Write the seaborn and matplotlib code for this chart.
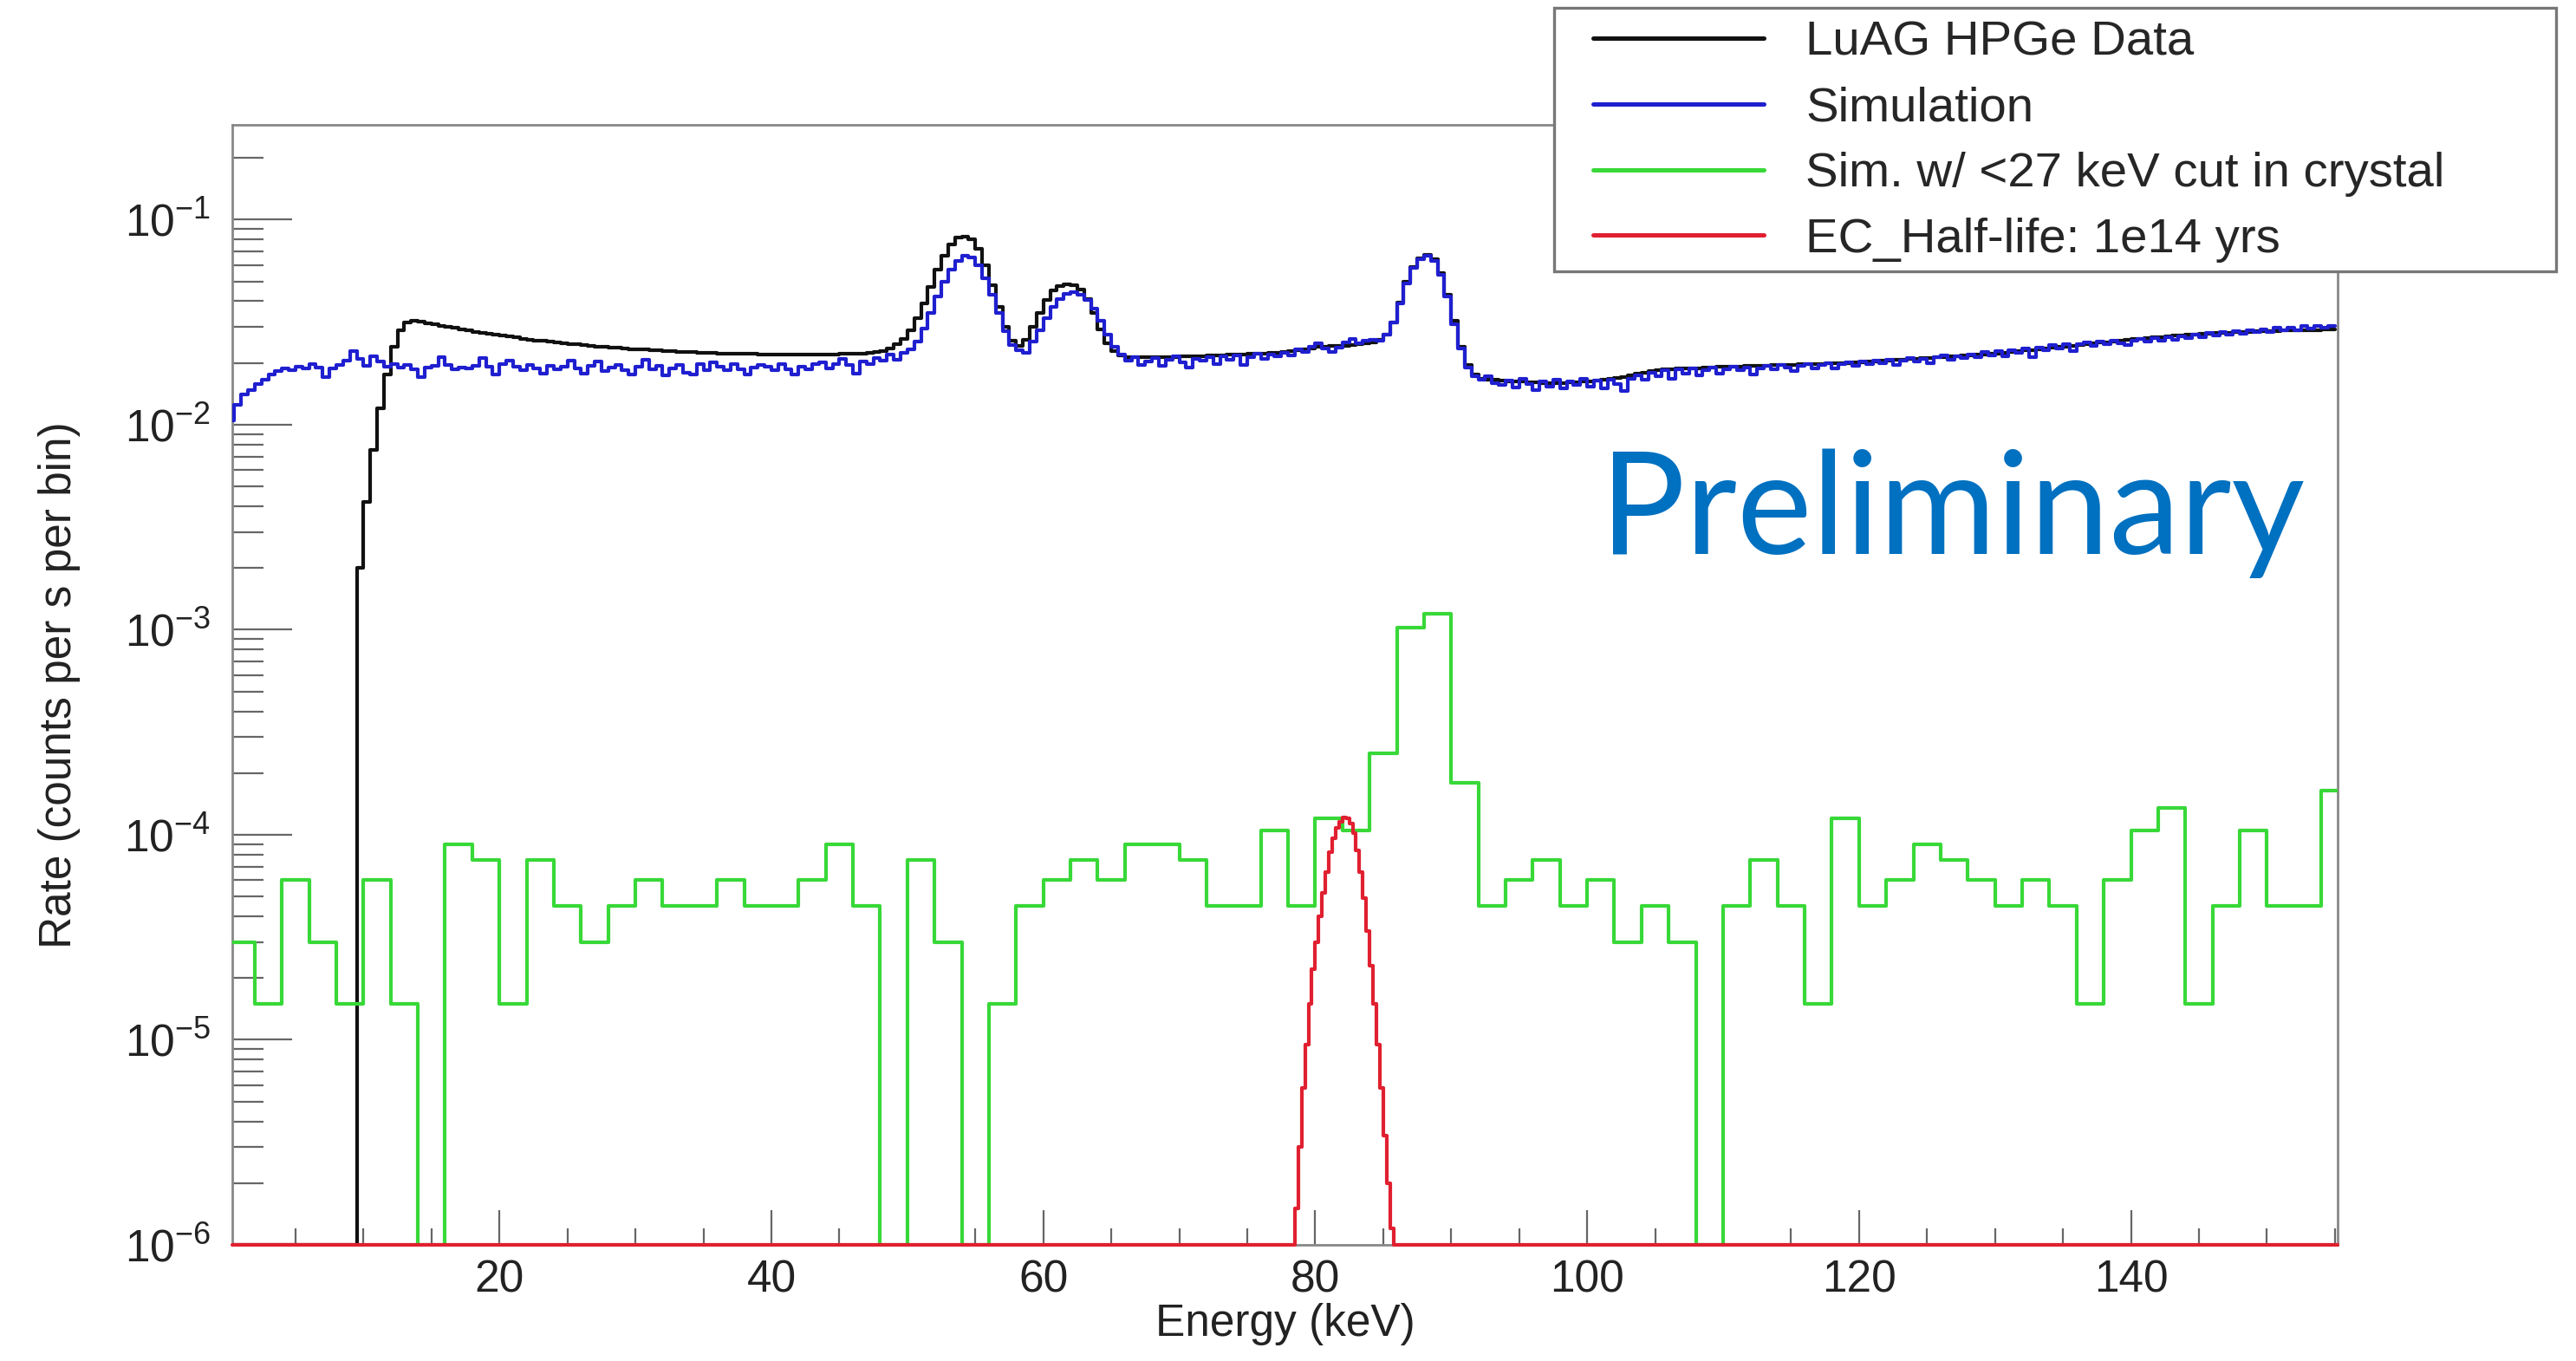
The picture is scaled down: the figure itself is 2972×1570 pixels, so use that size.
import numpy as np
import pandas as pd
import matplotlib
matplotlib.use("Agg")
import matplotlib.pyplot as plt
from matplotlib.lines import Line2D
from matplotlib.patches import Rectangle
from matplotlib.ticker import LogLocator, MultipleLocator, NullFormatter, LogFormatterMathtext
import seaborn as sns

# ---- data (rates) ----
# fine histograms: 0.5 keV bins from 0 to 155 keV, values in 1e-3 counts/s
FINE_BIN = 0.5
data_rate_e3 = [
    0, 0, 0, 0, 0, 0, 0, 0, 0, 0,                                  # 0-5
    0, 0, 0, 0, 0, 0, 0, 0, 0, 2.0,                                # 5-10
    4.2, 7.5, 12.0, 17.5, 24.0, 29.0, 31.5, 32.2, 31.8, 31.2,      # 10-15
    30.8, 30.4, 30.0, 29.6, 29.2, 28.8, 28.4, 28.1, 27.8, 27.5,    # 15-20
    27.2, 26.9, 26.6, 26.3, 26.0, 25.8, 25.6, 25.4, 25.2, 25.0,    # 20-25
    24.8, 24.6, 24.4, 24.3, 24.1, 24.0, 23.8, 23.7, 23.5, 23.4,    # 25-30
    23.3, 23.2, 23.1, 23.0, 22.9, 22.8, 22.7, 22.6, 22.6, 22.5,    # 30-35
    22.4, 22.4, 22.3, 22.3, 22.2, 22.2, 22.1, 22.1, 22.0, 22.0,    # 35-40
    22.0, 21.9, 21.9, 21.9, 21.9, 21.9, 21.9, 22.0, 22.0, 22.0,    # 40-45
    22.1, 22.1, 22.2, 22.3, 22.4, 22.6, 22.9, 23.5, 24.6, 26.3,    # 45-50
    29.0, 33.0, 39.0, 47.0, 57.0, 67.0, 76.0, 81.5, 83.0, 80.0,    # 50-55
    72.0, 60.0, 48.0, 37.5, 30.0, 25.8, 24.2, 26.0, 30.0, 35.0,    # 55-60
    40.5, 45.0, 47.5, 48.5, 48.0, 45.5, 41.0, 35.0, 29.2, 25.0,    # 60-65
    22.8, 21.8, 21.4, 21.3, 21.3, 21.3, 21.3, 21.4, 21.4, 21.4,    # 65-70
    21.5, 21.5, 21.6, 21.6, 21.7, 21.7, 21.8, 21.9, 22.0, 22.0,    # 70-75
    22.1, 22.2, 22.3, 22.4, 22.5, 22.7, 22.9, 23.1, 23.3, 23.6,    # 75-80
    23.9, 24.1, 24.2, 24.3, 24.3, 24.4, 24.6, 24.9, 25.3, 26.0,    # 80-85
    27.5, 31.5, 39.5, 50.0, 59.0, 65.0, 67.5, 64.0, 55.0, 43.0,    # 85-90
    32.0, 24.0, 19.5, 17.5, 16.8, 16.6, 16.5, 16.4, 16.3, 16.2,    # 90-95
    16.2, 16.1, 16.1, 16.0, 16.0, 16.0, 16.0, 16.1, 16.1, 16.2,    # 95-100
    16.3, 16.4, 16.5, 16.7, 16.9, 17.1, 17.4, 17.7, 18.0, 18.3,    # 100-105
    18.5, 18.6, 18.7, 18.8, 18.8, 18.9, 18.9, 19.0, 19.0, 19.1,    # 105-110
    19.1, 19.2, 19.2, 19.3, 19.3, 19.4, 19.4, 19.5, 19.5, 19.6,    # 110-115
    19.6, 19.7, 19.7, 19.8, 19.8, 19.9, 19.9, 20.0, 20.0, 20.1,    # 115-120
    20.2, 20.3, 20.4, 20.5, 20.6, 20.7, 20.8, 20.9, 21.0, 21.1,    # 120-125
    21.2, 21.3, 21.4, 21.5, 21.6, 21.7, 21.8, 21.9, 22.0, 22.1,    # 125-130
    22.3, 22.4, 22.6, 22.8, 23.0, 23.1, 23.3, 23.5, 23.7, 23.9,    # 130-135
    24.1, 24.3, 24.5, 24.7, 24.9, 25.1, 25.3, 25.5, 25.7, 25.9,    # 135-140
    26.1, 26.3, 26.5, 26.6, 26.8, 27.0, 27.1, 27.3, 27.4, 27.5,    # 140-145
    27.7, 27.8, 27.9, 28.0, 28.1, 28.2, 28.3, 28.4, 28.5, 28.6,    # 145-150
    28.6, 28.7, 28.8, 28.8, 28.9, 28.9, 29.0, 29.0, 29.1, 29.1,    # 150-155
]
sim_rate_e3 = [
    10.5, 12.5, 14.0, 14.8, 15.8, 16.5, 17.5, 18.2, 18.8, 18.5,    # 0-5
    19.2, 18.9, 19.8, 19.0, 17.0, 18.8, 19.6, 20.5, 22.8, 21.0,    # 5-10
    19.4, 21.6, 20.4, 19.2, 19.8, 19.0, 19.6, 18.6, 17.0, 19.0,    # 10-15
    19.4, 21.4, 19.6, 18.6, 19.0, 18.8, 19.4, 21.2, 19.2, 17.6,    # 15-20
    19.8, 20.6, 19.2, 18.4, 19.6, 18.9, 17.8, 19.4, 18.6, 19.2,    # 20-25
    20.6, 18.8, 17.8, 19.4, 20.4, 18.2, 19.0, 19.6, 18.4, 17.6,    # 25-30
    19.2, 20.8, 18.6, 19.4, 17.4, 18.8, 19.6, 18.0, 17.6, 19.8,    # 30-35
    18.4, 20.2, 19.2, 18.4, 19.8, 18.6, 17.6, 19.0, 19.6, 19.2,    # 35-40
    18.4, 19.8, 18.6, 17.6, 19.2, 18.6, 19.8, 20.2, 18.8, 19.8,    # 40-45
    21.0, 19.6, 17.8, 20.4, 19.8, 21.2, 20.6, 22.0, 20.8, 22.4,    # 45-50
    23.4, 25.5, 29.5, 35.0, 42.0, 50.0, 57.0, 63.0, 67.0, 65.5,    # 50-55
    60.0, 52.0, 43.0, 35.0, 28.5, 24.5, 23.0, 22.4, 25.5, 29.0,    # 55-60
    33.0, 37.5, 41.0, 43.5, 44.5, 43.0, 40.5, 37.0, 32.0, 27.5,    # 60-65
    24.0, 22.0, 20.6, 21.4, 19.6, 20.4, 21.2, 19.4, 20.8, 21.6,    # 65-70
    20.2, 19.0, 21.0, 20.6, 21.4, 19.8, 21.6, 20.8, 21.8, 19.6,    # 70-75
    21.4, 22.2, 21.0, 22.0, 21.6, 22.4, 21.8, 23.2, 22.6, 24.0,    # 75-80
    25.0, 23.6, 22.6, 23.8, 25.2, 26.2, 25.0, 25.8, 26.0, 25.6,    # 80-85
    27.5, 31.5, 39.0, 49.0, 58.0, 64.0, 66.5, 63.0, 54.0, 42.0,    # 85-90
    31.0, 23.5, 19.0, 17.2, 16.6, 17.2, 16.0, 15.6, 16.4, 15.2,    # 90-95
    16.8, 15.8, 14.8, 16.2, 15.4, 16.6, 15.0, 16.2, 15.6, 16.8,    # 95-100
    15.4, 16.4, 15.0, 16.6, 15.8, 14.6, 16.8, 17.4, 16.6, 18.0,    # 100-105
    17.2, 18.4, 16.8, 18.6, 17.8, 18.8, 17.4, 18.4, 19.0, 17.8,    # 105-110
    18.6, 19.2, 18.4, 19.0, 17.6, 18.8, 19.4, 18.6, 19.6, 19.0,    # 110-115
    18.2, 19.4, 19.8, 18.8, 19.6, 20.0, 18.8, 19.8, 20.2, 19.4,    # 115-120
    20.4, 19.8, 20.6, 20.0, 20.8, 19.6, 20.6, 21.2, 20.4, 21.0,    # 120-125
    20.0, 21.4, 21.8, 20.8, 21.6, 21.2, 22.0, 21.4, 22.6, 21.8,    # 125-130
    22.8, 21.6, 23.0, 22.4, 23.6, 21.4, 23.8, 23.0, 24.4, 23.6,    # 130-135
    24.8, 22.8, 24.6, 25.2, 24.2, 25.4, 24.8, 25.8, 25.0, 24.4,    # 135-140
    25.8, 26.2, 25.4, 26.4, 25.8, 26.8, 26.0, 27.0, 26.4, 27.4,    # 140-145
    26.6, 28.0, 27.2, 28.4, 27.6, 28.6, 27.8, 29.0, 28.2, 29.2,    # 145-150
    28.4, 29.6, 28.8, 29.8, 29.0, 30.2, 29.4, 30.4, 29.6, 30.2,    # 150-155
]

# coarse histogram with cut: 2 keV bins from 0 to 156 keV
CUT_BIN = 2.0
cut_rate = [
    3.0e-5, 1.5e-5, 6.0e-5, 3.0e-5, 1.5e-5, 6.0e-5, 1.5e-5, 0, 9.0e-5, 7.5e-5,          # 0-20
    1.5e-5, 7.5e-5, 4.5e-5, 3.0e-5, 4.5e-5, 6.0e-5, 4.5e-5, 4.5e-5, 6.0e-5, 4.5e-5,     # 20-40
    4.5e-5, 6.0e-5, 9.0e-5, 4.5e-5, 0, 7.5e-5, 3.0e-5, 0, 1.5e-5, 4.5e-5,              # 40-60
    6.0e-5, 7.5e-5, 6.0e-5, 9.0e-5, 9.0e-5, 7.5e-5, 4.5e-5, 4.5e-5, 1.05e-4, 4.5e-5,    # 60-80
    1.2e-4, 1.05e-4, 2.5e-4, 1.02e-3, 1.2e-3, 1.8e-4, 4.5e-5, 6.0e-5, 7.5e-5, 4.5e-5,   # 80-100
    6.0e-5, 3.0e-5, 4.5e-5, 3.0e-5, 0, 4.5e-5, 7.5e-5, 4.5e-5, 1.5e-5, 1.2e-4,         # 100-120
    4.5e-5, 6.0e-5, 9.0e-5, 7.5e-5, 6.0e-5, 4.5e-5, 6.0e-5, 4.5e-5, 1.5e-5, 6.0e-5,     # 120-140
    1.05e-4, 1.35e-4, 1.5e-5, 4.5e-5, 1.05e-4, 4.5e-5, 4.5e-5, 1.65e-4,                 # 140-156
]

# EC peak: 0.25 keV bins from 78.5 keV, zero elsewhere
EC_START = 78.5
EC_BIN = 0.25
ec_rate = [
    1.5e-6, 3.0e-6, 5.8e-6, 9.5e-6, 1.5e-5, 2.2e-5, 3.0e-5, 4.0e-5, 5.2e-5, 6.6e-5,
    8.2e-5, 9.6e-5, 1.08e-4, 1.16e-4, 1.21e-4, 1.2e-4, 1.13e-4, 1.02e-4, 8.4e-5, 6.6e-5,
    4.9e-5, 3.4e-5, 2.3e-5, 1.5e-5, 9.5e-6, 5.8e-6, 3.4e-6, 2.0e-6, 1.2e-6,
]

labels = ["LuAG HPGe Data", "Simulation", "Sim. w/ <27 keV cut in crystal", "EC_Half-life: 1e14 yrs"]
colors = ["#111111", "#1f1fd0", "#38d838", "#e02030"]

X_MIN, X_MAX = 0.35, 155.2
Y_MIN, Y_MAX = 1e-6, 0.29
LW = 1.5

# ---- style ----
sns.set_theme(style="white")
plt.rcParams["font.family"] = ["Liberation Sans", "DejaVu Sans"]
plt.rcParams["mathtext.fontset"] = "custom"
plt.rcParams["mathtext.rm"] = "Liberation Sans"
plt.rcParams["mathtext.it"] = "Liberation Sans:italic"
plt.rcParams["mathtext.bf"] = "Liberation Sans:bold"


def step_frame(edges, values):
    # zero bins sit on the bottom of the log axis, like ROOT does
    v = np.clip(np.asarray(values, dtype=float), Y_MIN, None)
    return pd.DataFrame({"energy": edges, "rate": np.append(v, v[-1])})


fine_edges = np.arange(len(data_rate_e3) + 1) * FINE_BIN
cut_edges = np.arange(len(cut_rate) + 1) * CUT_BIN
ec_edges = EC_START + np.arange(len(ec_rate) + 1) * EC_BIN
ec_edges_full = np.concatenate([[X_MIN], ec_edges, [X_MAX]])
ec_full = np.concatenate([[0.0], ec_rate, [0.0]])

frames = [
    step_frame(fine_edges, np.array(data_rate_e3) * 1e-3),
    step_frame(fine_edges, np.array(sim_rate_e3) * 1e-3),
    step_frame(cut_edges, cut_rate),
    step_frame(ec_edges_full, ec_full),
]

fig = plt.figure(figsize=(14.86, 7.85), dpi=200)
ax = fig.add_axes([268 / 2972, 1 - 1436 / 1570, (2697 - 268) / 2972, (1436 - 144) / 1570])

for i, (df, c) in enumerate(zip(frames, colors)):
    sns.lineplot(data=df, x="energy", y="rate", drawstyle="steps-post", color=c,
                 linewidth=LW, estimator=None, sort=False, ax=ax,
                 clip_on=(i != 3), zorder=2 + i)

ax.set_yscale("log")
ax.set_xlim(X_MIN, X_MAX)
ax.set_ylim(Y_MIN, Y_MAX)

ax.xaxis.set_major_locator(MultipleLocator(20))
ax.xaxis.set_minor_locator(MultipleLocator(5))
ax.yaxis.set_major_locator(LogLocator(base=10, numticks=20))
ax.yaxis.set_minor_locator(LogLocator(base=10, subs=np.arange(2, 10), numticks=20))
ax.yaxis.set_major_formatter(LogFormatterMathtext())
ax.yaxis.set_minor_formatter(NullFormatter())

ax.tick_params(which="both", bottom=True, left=True, top=False, right=False)
ax.tick_params(axis="y", which="major", direction="in", length=25, width=0.8,
               color="#666666", labelsize=18.5, labelcolor="#222222", pad=9)
ax.tick_params(axis="y", which="minor", direction="in", length=13, width=0.8, color="#666666")
ax.tick_params(axis="x", which="major", direction="in", length=14.5, width=0.8,
               color="#666666", labelsize=18.5, labelcolor="#222222", pad=6)
ax.tick_params(axis="x", which="minor", direction="in", length=7, width=0.8, color="#666666")
for s in ax.spines.values():
    s.set_color("#888888")
    s.set_linewidth(1.0)

ax.set_xlabel("Energy (keV)", fontsize=18.5, color="#222222")
ax.set_ylabel("Rate (counts per s per bin)", fontsize=18.5, color="#222222")
ax.xaxis.set_label_coords(0.5, -0.052)
ax.yaxis.set_label_coords(-0.072, 0.5)

if ax.get_legend() is not None:
    ax.get_legend().remove()

# legend box sticking out above the frame
box = Rectangle((1793 / 2972, 1 - 313 / 1570), (2949 - 1793) / 2972, (313 - 9) / 1570,
                transform=fig.transFigure, facecolor="white", edgecolor="#777777",
                linewidth=1.2, zorder=4)
fig.add_artist(box)
handles = [Line2D([], [], color=c, linewidth=LW * 1.2) for c in colors]
fig.legend(handles, labels, loc="upper left", bbox_to_anchor=(1838 / 2972, 1 - 24 / 1570),
           frameon=False, fontsize=20.3, borderpad=0, borderaxespad=0,
           handlelength=3.5, handletextpad=0.85, labelspacing=0.42)

fig.text(1846 / 2972, 1 - 639 / 1570, "Preliminary", family=["Lato", "DejaVu Sans"],
         fontsize=59, color="#0070c0", ha="left", va="baseline")

fig.savefig("out.png", dpi=200, facecolor="white")
